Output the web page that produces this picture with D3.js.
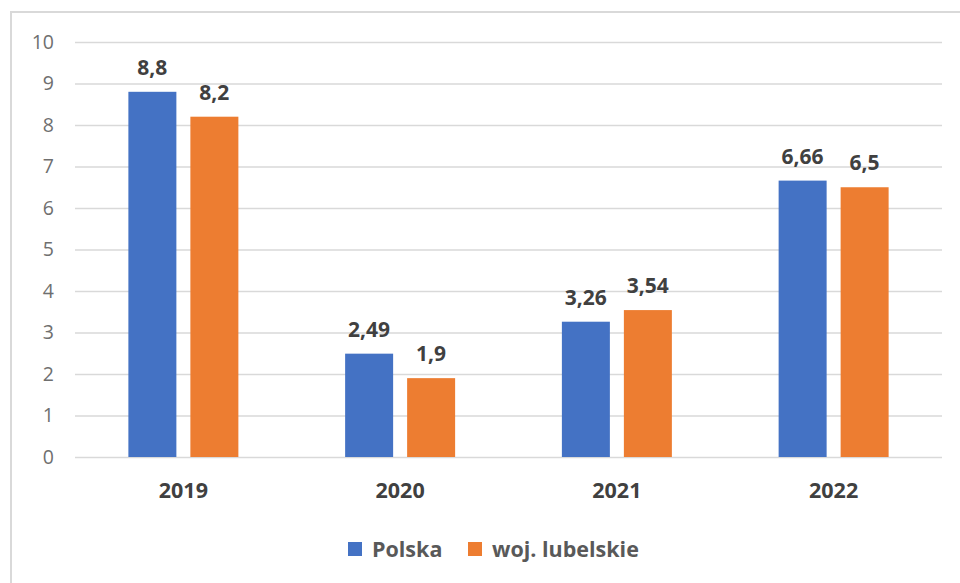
<!DOCTYPE html>
<html>
<head>
<meta charset="utf-8">
<script src="https://cdn.jsdelivr.net/npm/d3@7"></script>
<style>
  body { margin: 0; background: #fff; }
</style>
</head>
<body>
<div id="chart"></div>
<script>
const years = ["2019", "2020", "2021", "2022"];
const seriesNames = ["Polska", "woj. lubelskie"];
const polska = [8.8, 2.49, 3.26, 6.66];
const lubelskie = [8.2, 1.9, 3.54, 6.5];
const yTicks = [0, 1, 2, 3, 4, 5, 6, 7, 8, 9, 10];

const width = 960;
const height = 583;
const margin = { top: 42, right: 18, bottom: 126, left: 75 };

const colors = { "Polska": "#4472C4", "woj. lubelskie": "#ED7D31" };

const data = years.map((y, i) => ({
  year: y,
  values: [
    { name: "Polska", value: polska[i] },
    { name: "woj. lubelskie", value: lubelskie[i] }
  ]
}));

const svg = d3.select("#chart")
  .append("svg")
  .attr("width", width)
  .attr("height", height)
  .style("font-family", "'Open Sans', sans-serif");

// outer frame
svg.append("rect")
  .attr("x", 11)
  .attr("y", 12)
  .attr("width", width + 20)
  .attr("height", height + 20)
  .attr("fill", "#fff")
  .attr("stroke", "#d9d9d9")
  .attr("stroke-width", 2);

const x0 = d3.scaleBand()
  .domain(years)
  .range([margin.left, width - margin.right])
  .padding(0);

const x1 = d3.scaleBand()
  .domain(seriesNames)
  .range([0, x0.bandwidth()])
  .paddingInner(0.2258)
  .paddingOuter(0.861);

const y = d3.scaleLinear()
  .domain([0, 10])
  .range([height - margin.bottom, margin.top]);

// gridlines + y labels
svg.append("g")
  .attr("transform", `translate(${margin.left},0)`)
  .call(d3.axisLeft(y).tickValues(yTicks).tickSize(-(width - margin.left - margin.right)).tickPadding(21))
  .call(g => g.select(".domain").remove())
  .call(g => g.selectAll("line").attr("stroke", "#d9d9d9").attr("stroke-width", 1.5))
  .call(g => g.selectAll("text")
    .attr("fill", "#6f6f6f")
    .style("font-size", "19.5px")
    .style("font-family", "'Open Sans', sans-serif"));

// x labels
svg.append("g")
  .attr("transform", `translate(0,${height - margin.bottom})`)
  .call(d3.axisBottom(x0).tickSize(0).tickPadding(26))
  .call(g => g.select(".domain").remove())
  .call(g => g.selectAll("text")
    .attr("fill", "#404040")
    .style("font-size", "21.5px")
    .style("font-weight", "bold")
    .style("font-family", "'Open Sans', sans-serif"));

const groups = svg.append("g")
  .selectAll("g")
  .data(data)
  .join("g")
  .attr("transform", d => `translate(${x0(d.year)},0)`);

groups.selectAll("rect")
  .data(d => d.values)
  .join("rect")
  .attr("x", d => x1(d.name))
  .attr("y", d => y(d.value))
  .attr("width", x1.bandwidth())
  .attr("height", d => y(0) - y(d.value))
  .attr("fill", d => colors[d.name]);

// value labels
groups.selectAll("text")
  .data(d => d.values)
  .join("text")
  .attr("x", d => x1(d.name) + x1.bandwidth() / 2)
  .attr("y", d => y(d.value) - 17)
  .attr("text-anchor", "middle")
  .attr("fill", "#404040")
  .style("font-size", "21px")
  .style("font-weight", "bold")
  .text(d => String(d.value).replace(".", ","));

// legend
const legendItems = [
  { name: "Polska", x: 348 },
  { name: "woj. lubelskie", x: 468 }
];

const legend = svg.append("g")
  .selectAll("g")
  .data(legendItems)
  .join("g")
  .attr("transform", d => `translate(${d.x},542)`);

legend.append("rect")
  .attr("width", 14)
  .attr("height", 14)
  .attr("fill", d => colors[d.name]);

legend.append("text")
  .attr("x", 24)
  .attr("y", 15)
  .attr("fill", "#595959")
  .style("font-size", "21.5px")
  .style("font-weight", "bold")
  .text(d => d.name);
</script>
</body>
</html>
